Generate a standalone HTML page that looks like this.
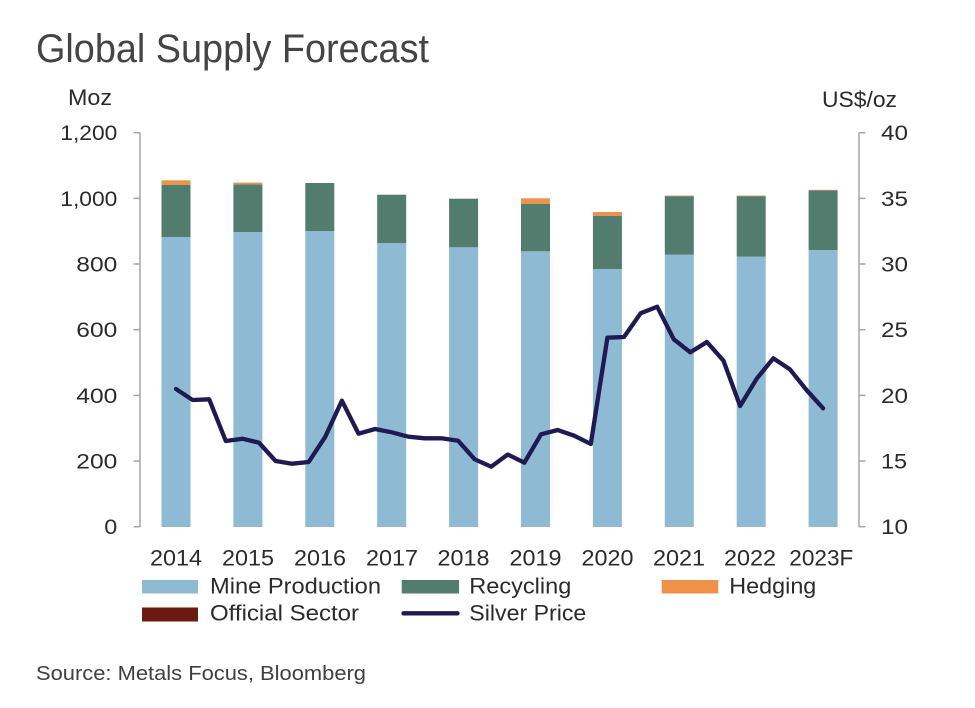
<!DOCTYPE html>
<html>
<head>
<meta charset="utf-8">
<style>
  html, body { margin: 0; padding: 0; background: #ffffff; }
  body { width: 975px; height: 708px; overflow: hidden; }
  svg { display: block; }
  text { font-family: "Liberation Sans", "DejaVu Sans", sans-serif; fill: #2b2b2b; }
</style>
</head>
<body>
<svg width="975" height="708" viewBox="0 0 975 708" xmlns="http://www.w3.org/2000/svg">
  <rect x="0" y="0" width="975" height="708" fill="#ffffff"/>

  <!-- Title -->
  <text x="36" y="62" font-size="40" fill="#444444" style="fill:#444444" textLength="393" lengthAdjust="spacingAndGlyphs">Global Supply Forecast</text>

  <!-- Axis unit labels -->
  <text x="68" y="105" font-size="22" textLength="44" lengthAdjust="spacingAndGlyphs">Moz</text>
  <text x="822" y="107" font-size="22" textLength="75" lengthAdjust="spacingAndGlyphs">US$/oz</text>

  <!-- Bars -->
  <g>
    <!-- 2014 -->
    <rect x="161.5" y="237" width="29" height="290" fill="#8fbad3"/>
    <rect x="161.5" y="184.7" width="29" height="52.3" fill="#527d6e"/>
    <rect x="161.5" y="180.3" width="29" height="4.4" fill="#f0914a"/>
    <!-- 2015 -->
    <rect x="233.4" y="232" width="29" height="295" fill="#8fbad3"/>
    <rect x="233.4" y="184.3" width="29" height="47.7" fill="#527d6e"/>
    <rect x="233.4" y="182.6" width="29" height="1.7" fill="#f0914a"/>
    <!-- 2016 -->
    <rect x="305.3" y="231" width="29" height="296" fill="#8fbad3"/>
    <rect x="305.3" y="183" width="29" height="48" fill="#527d6e"/>
    <!-- 2017 -->
    <rect x="377.2" y="243" width="29" height="284" fill="#8fbad3"/>
    <rect x="377.2" y="194.7" width="29" height="48.3" fill="#527d6e"/>
    <!-- 2018 -->
    <rect x="449.1" y="247.3" width="29" height="279.7" fill="#8fbad3"/>
    <rect x="449.1" y="198.7" width="29" height="48.6" fill="#527d6e"/>
    <!-- 2019 -->
    <rect x="521" y="251.3" width="29" height="275.7" fill="#8fbad3"/>
    <rect x="521" y="203.7" width="29" height="47.6" fill="#527d6e"/>
    <rect x="521" y="198.3" width="29" height="5.4" fill="#f0914a"/>
    <!-- 2020 -->
    <rect x="592.9" y="269" width="29" height="258" fill="#8fbad3"/>
    <rect x="592.9" y="215.7" width="29" height="53.3" fill="#527d6e"/>
    <rect x="592.9" y="212" width="29" height="3.7" fill="#f0914a"/>
    <!-- 2021 -->
    <rect x="664.8" y="254.7" width="29" height="272.3" fill="#8fbad3"/>
    <rect x="664.8" y="196.3" width="29" height="58.4" fill="#527d6e"/>
    <rect x="664.8" y="195.6" width="29" height="1" fill="#b48a70"/>
    <!-- 2022 -->
    <rect x="736.7" y="256.7" width="29" height="270.3" fill="#8fbad3"/>
    <rect x="736.7" y="196.3" width="29" height="60.4" fill="#527d6e"/>
    <rect x="736.7" y="195.6" width="29" height="1" fill="#b48a70"/>
    <!-- 2023F -->
    <rect x="808.6" y="250" width="29" height="277" fill="#8fbad3"/>
    <rect x="808.6" y="190.5" width="29" height="59.5" fill="#527d6e"/>
    <rect x="808.6" y="189.8" width="29" height="1" fill="#c08a80"/>
  </g>

  <!-- Left axis -->
  <g stroke="#a6a6a6" stroke-width="1.5" fill="none">
    <line x1="140" y1="132.7" x2="140" y2="527"/>
    <line x1="133.5" y1="132.7" x2="140" y2="132.7"/>
    <line x1="133.5" y1="198.4" x2="140" y2="198.4"/>
    <line x1="133.5" y1="264.0" x2="140" y2="264.0"/>
    <line x1="133.5" y1="329.7" x2="140" y2="329.7"/>
    <line x1="133.5" y1="395.4" x2="140" y2="395.4"/>
    <line x1="133.5" y1="461.0" x2="140" y2="461.0"/>
    <line x1="133.5" y1="526.7" x2="140" y2="526.7"/>
  </g>
  <g font-size="21" text-anchor="end">
    <text x="117.3" y="140.2" textLength="57" lengthAdjust="spacingAndGlyphs">1,200</text>
    <text x="117.3" y="205.9" textLength="57" lengthAdjust="spacingAndGlyphs">1,000</text>
    <text x="117.3" y="271.5" textLength="41" lengthAdjust="spacingAndGlyphs">800</text>
    <text x="117.3" y="337.2" textLength="41" lengthAdjust="spacingAndGlyphs">600</text>
    <text x="117.3" y="402.9" textLength="41" lengthAdjust="spacingAndGlyphs">400</text>
    <text x="117.3" y="468.5" textLength="41" lengthAdjust="spacingAndGlyphs">200</text>
    <text x="117.3" y="534.2" textLength="13" lengthAdjust="spacingAndGlyphs">0</text>
  </g>

  <!-- Right axis -->
  <g stroke="#a6a6a6" stroke-width="1.5" fill="none">
    <line x1="859" y1="132.7" x2="859" y2="527"/>
    <line x1="859" y1="132.7" x2="865.5" y2="132.7"/>
    <line x1="859" y1="198.4" x2="865.5" y2="198.4"/>
    <line x1="859" y1="264.0" x2="865.5" y2="264.0"/>
    <line x1="859" y1="329.7" x2="865.5" y2="329.7"/>
    <line x1="859" y1="395.4" x2="865.5" y2="395.4"/>
    <line x1="859" y1="461.0" x2="865.5" y2="461.0"/>
    <line x1="859" y1="526.7" x2="865.5" y2="526.7"/>
  </g>
  <g font-size="21">
    <text x="881" y="140.2" textLength="27" lengthAdjust="spacingAndGlyphs">40</text>
    <text x="881" y="205.9" textLength="27" lengthAdjust="spacingAndGlyphs">35</text>
    <text x="881" y="271.5" textLength="27" lengthAdjust="spacingAndGlyphs">30</text>
    <text x="881" y="337.2" textLength="27" lengthAdjust="spacingAndGlyphs">25</text>
    <text x="881" y="402.9" textLength="27" lengthAdjust="spacingAndGlyphs">20</text>
    <text x="881" y="468.5" textLength="26" lengthAdjust="spacingAndGlyphs">15</text>
    <text x="881" y="534.2" textLength="27" lengthAdjust="spacingAndGlyphs">10</text>
  </g>

  <!-- Silver price line -->
  <polyline fill="none" stroke="#1f1a52" stroke-width="4.3" stroke-linejoin="round" stroke-linecap="round"
    points="176.0,389 192.6,400 209.2,399.3 225.8,441 242.4,438.7 259.0,442.7 275.6,461 292.1,463.7 308.7,462 325.3,436.7 341.9,400.7 358.5,433.7 375.1,429 391.7,432.3 408.3,436.7 424.9,438.3 441.5,438.3 458.1,440.7 474.7,459.3 491.2,466.7 507.8,454.5 524.4,462.7 541.0,434.3 557.6,430 574.2,435.7 590.8,444 607.4,337.7 624.0,337 640.6,313.3 657.2,306.7 673.8,339.3 690.3,352.3 706.9,342 723.5,360.7 740.1,406 756.7,378.7 773.3,358.3 789.9,369.3 806.5,390 823.1,408.3"/>

  <!-- Year labels -->
  <g font-size="22" text-anchor="middle">
    <text x="176" y="565.5" textLength="52" lengthAdjust="spacingAndGlyphs">2014</text>
    <text x="248" y="565.5" textLength="52" lengthAdjust="spacingAndGlyphs">2015</text>
    <text x="320" y="565.5" textLength="52" lengthAdjust="spacingAndGlyphs">2016</text>
    <text x="392" y="565.5" textLength="52" lengthAdjust="spacingAndGlyphs">2017</text>
    <text x="463.5" y="565.5" textLength="52" lengthAdjust="spacingAndGlyphs">2018</text>
    <text x="535.5" y="565.5" textLength="52" lengthAdjust="spacingAndGlyphs">2019</text>
    <text x="607.5" y="565.5" textLength="52" lengthAdjust="spacingAndGlyphs">2020</text>
    <text x="679" y="565.5" textLength="52" lengthAdjust="spacingAndGlyphs">2021</text>
    <text x="750" y="565.5" textLength="52" lengthAdjust="spacingAndGlyphs">2022</text>
    <text x="821.3" y="565.5" textLength="64" lengthAdjust="spacingAndGlyphs">2023F</text>
  </g>

  <!-- Legend -->
  <rect x="142" y="580" width="56" height="13.5" fill="#8fbad3"/>
  <text x="210" y="593.5" font-size="22" textLength="171" lengthAdjust="spacingAndGlyphs">Mine Production</text>
  <rect x="401.7" y="580" width="57.3" height="13.5" fill="#527d6e"/>
  <text x="469.3" y="593.5" font-size="22" textLength="102" lengthAdjust="spacingAndGlyphs">Recycling</text>
  <rect x="661.7" y="580" width="56.6" height="13.5" fill="#f0914a"/>
  <text x="729.3" y="593.5" font-size="22" textLength="87" lengthAdjust="spacingAndGlyphs">Hedging</text>

  <rect x="142" y="607.5" width="56" height="14" fill="#6b1a10"/>
  <text x="210" y="620.7" font-size="22" textLength="149" lengthAdjust="spacingAndGlyphs">Official Sector</text>
  <line x1="403.5" y1="613.3" x2="457.5" y2="613.3" stroke="#1f1a52" stroke-width="4.3" stroke-linecap="round"/>
  <text x="469.3" y="620.7" font-size="22" textLength="117" lengthAdjust="spacingAndGlyphs">Silver Price</text>

  <!-- Source -->
  <text x="36" y="680" font-size="20" fill="#404040" style="fill:#404040" textLength="330" lengthAdjust="spacingAndGlyphs">Source: Metals Focus, Bloomberg</text>
</svg>
</body>
</html>
